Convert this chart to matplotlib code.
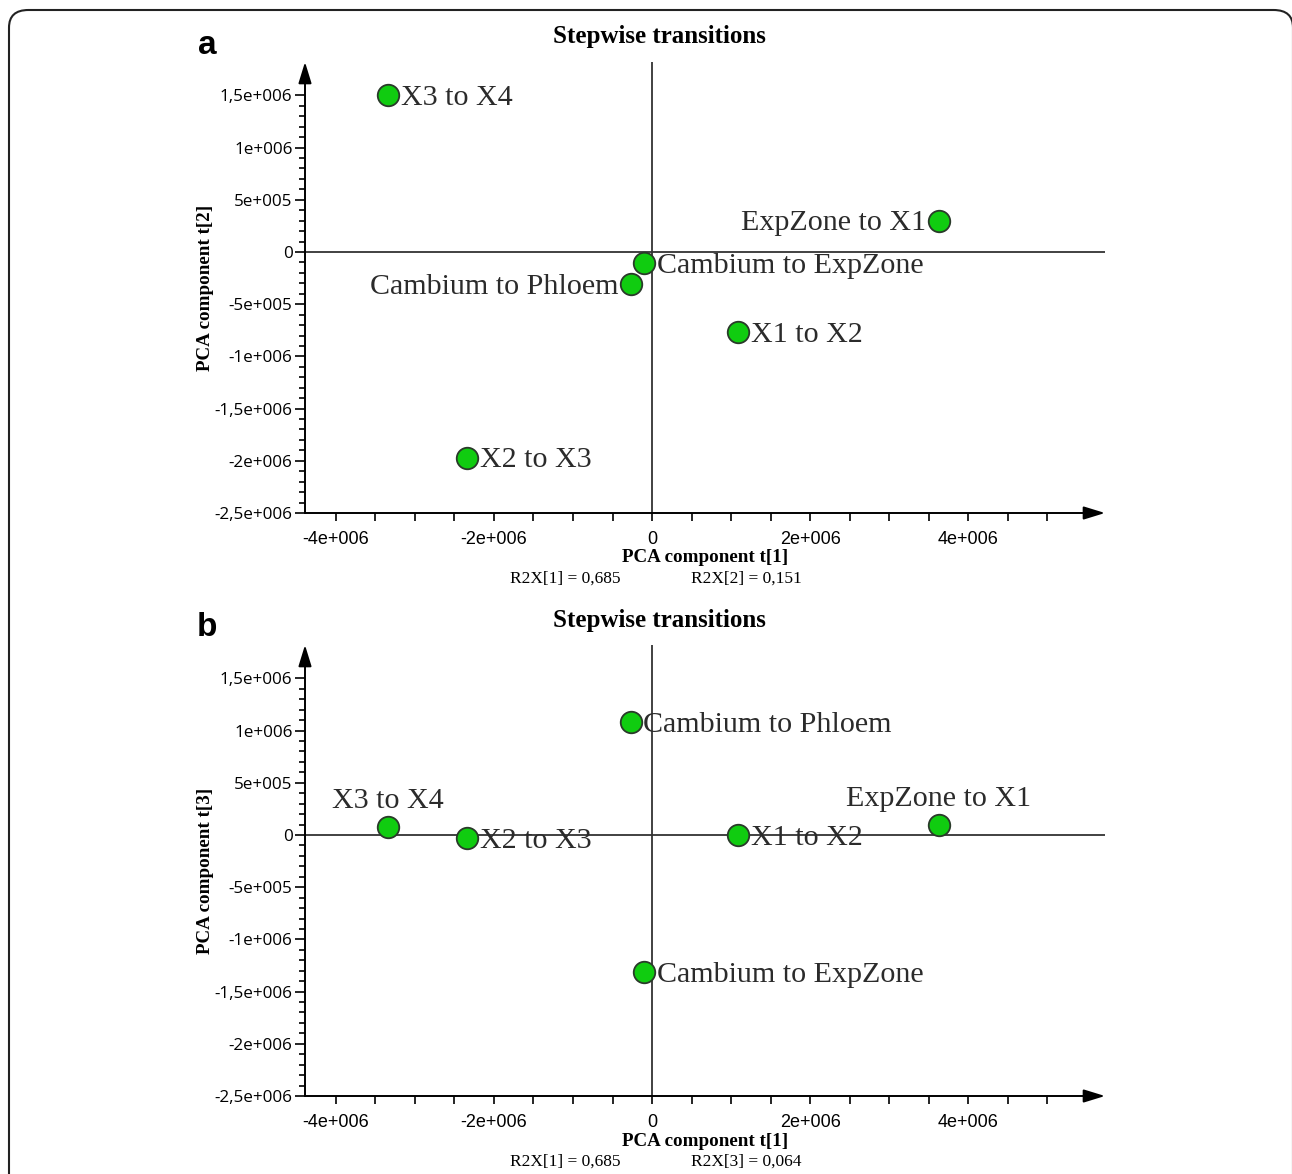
import numpy as np
import matplotlib
matplotlib.use("Agg")
import matplotlib.pyplot as plt
from matplotlib.patches import FancyBboxPatch
from matplotlib.ticker import MultipleLocator, FuncFormatter

# ---- data ----
samples = ["X3 to X4", "ExpZone to X1", "Cambium to ExpZone",
           "Cambium to Phloem", "X1 to X2", "X2 to X3"]
t1 = [-3.34e6, 3.63e6, -0.10e6, -0.27e6, 1.09e6, -2.34e6]
t2 = [1.50e6, 0.30e6, -0.11e6, -0.31e6, -0.77e6, -1.97e6]
t3 = [0.08e6, 0.10e6, -1.31e6, 1.08e6, 0.0e6, -0.03e6]
r2x = {1: "0,685", 2: "0,151", 3: "0,064"}

# label placement per panel: 'r' right of point, 'l' left, 'u' above
place_a = ["r", "l", "r", "l", "r", "r"]
place_b = ["u", "u", "r", "r", "r", "r"]

W, H = 1292, 1174
SERIF = ["Liberation Serif", "DejaVu Serif"]
GREEN = "#10cc10"


def fx(px):
    return px / W


def fy(py):
    return 1 - py / H


def fmt_tick(v, pos):
    if abs(v) < 1:
        return "0"
    e = int(np.floor(np.log10(abs(v))))
    m = v / 10 ** e
    ms = ("%g" % m).replace(".", ",")
    return "%se+%03d" % (ms, e)


def draw_panel(top_px, ycomp, yvals, places, letter):
    bottom_px = top_px + 451
    ax = fig.add_axes([fx(305), fy(bottom_px), fx(800), (bottom_px - top_px) / H])
    ax.set_xlim(-4.39e6, 5.73e6)
    ax.set_ylim(-2.5e6, 1.82e6)
    for s in ax.spines.values():
        s.set_visible(False)
    ax.patch.set_visible(False)

    # axes drawn as arrows
    arrow = dict(arrowstyle="-|>,head_length=1.3,head_width=0.4", color="black",
                 lw=1.4, shrinkA=0, shrinkB=0)
    ax.annotate("", xy=(1, 0), xytext=(0, 0), xycoords="axes fraction",
                arrowprops=arrow)
    ax.annotate("", xy=(0, 1), xytext=(0, 0), xycoords="axes fraction",
                arrowprops=arrow)
    # zero lines
    ax.axhline(0, color="#333333", lw=1.3, zorder=1)
    ax.axvline(0, color="#333333", lw=1.3, zorder=1)

    ax.xaxis.set_major_locator(MultipleLocator(2e6))
    ax.xaxis.set_major_formatter(FuncFormatter(fmt_tick))
    ax.yaxis.set_major_formatter(FuncFormatter(fmt_tick))
    ax.set_xticks(np.arange(-4e6, 5.01e6, 0.5e6), minor=True)
    ax.set_yticks(np.arange(-2.5e6, 1.51e6, 0.1e6), minor=True)
    ax.set_yticks(np.arange(-2.5e6, 1.51e6, 0.5e6))
    ax.tick_params(axis="x", which="both", direction="out", length=6, width=1.2,
                   pad=7, labelsize=13)
    ax.tick_params(axis="y", which="major", direction="out", length=7, width=1.2,
                   pad=2, labelsize=12.3)
    ax.tick_params(axis="y", which="minor", direction="out", length=4, width=1.2)
    for lab in ax.get_xticklabels():
        lab.set_family(["Liberation Sans Narrow", "Liberation Sans"])
    for lab in ax.get_yticklabels():
        lab.set_family(["Open Sans", "DejaVu Sans"])

    ax.plot(t1, yvals, "o", ms=15.5, mfc=GREEN, mec="#2a3a2a", mew=1.3, zorder=5)

    for name, x, y, p in zip(samples, t1, yvals, places):
        if p == "r":
            ax.annotate(name, (x, y), xytext=(9, -2), textcoords="offset points",
                        ha="left", va="center", fontsize=21.6, family=SERIF,
                        color="#2b2b2b", zorder=6)
        elif p == "l":
            ax.annotate(name, (x, y), xytext=(-9, -2), textcoords="offset points",
                        ha="right", va="center", fontsize=21.6, family=SERIF,
                        color="#2b2b2b", zorder=6)
        else:
            ax.annotate(name, (x, y), xytext=(0, 9), textcoords="offset points",
                        ha="center", va="bottom", fontsize=21.6, family=SERIF,
                        color="#2b2b2b", zorder=6)

    fig.text(fx(659), fy(top_px - 25), "Stepwise transitions", ha="center",
             va="center", fontsize=18, fontweight="bold", family=SERIF)
    fig.text(fx(207), fy(top_px - 17), letter, ha="center", va="center",
             fontsize=24, fontweight="bold", family=["Liberation Sans", "DejaVu Sans"])
    fig.text(fx(705), fy(bottom_px + 45), "PCA component t[1]", ha="center",
             va="center", fontsize=13.7, fontweight="bold", family=SERIF)
    fig.text(fx(565), fy(bottom_px + 66), "R2X[1] = %s" % r2x[1], ha="center",
             va="center", fontsize=12.5, family=SERIF)
    fig.text(fx(746), fy(bottom_px + 66), "R2X[%d] = %s" % (ycomp, r2x[ycomp]),
             ha="center", va="center", fontsize=12.5, family=SERIF)
    fig.text(fx(206), fy((top_px + bottom_px) / 2), "PCA component t[%d]" % ycomp,
             ha="center", va="center", rotation=90, fontsize=13.7,
             fontweight="bold", family=SERIF)
    return ax


fig = plt.figure(figsize=(W / 100, H / 100), dpi=100)

border = FancyBboxPatch((fx(9), fy(1200)), fx(1284), (1200 - 10) / H,
                        boxstyle="round,pad=0,rounding_size=0.015",
                        transform=fig.transFigure, fill=False, ec="#222222",
                        lw=1.5, clip_on=False)
fig.patches.append(border)

draw_panel(62, 2, t2, place_a, "a")
draw_panel(645, 3, t3, place_b, "b")

fig.savefig("out.png", dpi=100)
